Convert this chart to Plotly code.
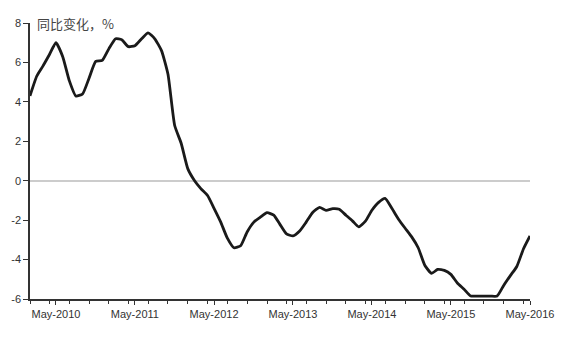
import pandas as pd
import plotly.graph_objects as go

# Monthly data Jan-2010 .. May-2016
start_month = "2010-01-01"
values = [
    4.3, 5.3, 5.8, 6.4, 7.0, 6.3, 5.1, 4.3, 4.4, 5.2, 6.05, 6.1,
    6.7, 7.2, 7.15, 6.8, 6.85, 7.2, 7.5, 7.2, 6.6, 5.4, 2.8, 1.9,
    0.6, 0.0, -0.4, -0.75, -1.4, -2.1, -2.9, -3.4, -3.3, -2.6, -2.1, -1.85,
    -1.62, -1.75, -2.2, -2.7, -2.8, -2.55, -2.1, -1.6, -1.35, -1.5, -1.42, -1.45,
    -1.75, -2.05, -2.34, -2.05, -1.5, -1.1, -0.9, -1.4, -1.95, -2.4, -2.85, -3.4,
    -4.3, -4.7, -4.5, -4.55, -4.75, -5.2, -5.5, -5.85, -5.85, -5.85, -5.85, -5.85,
    -5.3, -4.8, -4.35, -3.45, -2.8,
]
dates = pd.date_range(start_month, periods=len(values), freq="MS")

y_ticks = [8, 6, 4, 2, 0, -2, -4, -6]
title_text = "同比变化，%"

fig = go.Figure()
fig.add_trace(go.Scatter(
    x=dates, y=values, mode="lines",
    line=dict(color="#1a1a1a", width=2.8, shape="spline", smoothing=0.5),
    hoverinfo="skip",
))

fig.update_layout(
    width=566, height=339,
    margin=dict(l=30, r=36, t=23, b=40),
    paper_bgcolor="white", plot_bgcolor="white",
    showlegend=False,
    font=dict(family="Liberation Sans, Arial, sans-serif", size=11, color="#333333"),
)
fig.update_xaxes(
    type="date",
    range=["2010-01-01", "2016-05-01"],
    tick0="2010-05-01", dtick="M12", tickformat="%b-%Y",
    ticks="outside", ticklen=4, tickwidth=1, tickcolor="#333333",
    minor=dict(dtick="M3", ticks="outside", ticklen=3, tickcolor="#333333"),
    showline=True, linecolor="#333333", linewidth=1.5,
    showgrid=False, zeroline=False,
    tickfont=dict(size=11, color="#333333"),
)
fig.update_yaxes(
    range=[-6, 8],
    tickvals=y_ticks, ticktext=[str(v) for v in y_ticks],
    ticks="outside", ticklen=5, tickwidth=1, tickcolor="#333333",
    showline=True, linecolor="#333333", linewidth=1.5,
    showgrid=False, zeroline=True, zerolinecolor="#cccccc", zerolinewidth=1.5,
    tickfont=dict(size=11, color="#333333"),
)
fig.add_annotation(
    text=title_text, xref="paper", yref="paper", x=0, y=1,
    xanchor="left", yanchor="middle", xshift=5, showarrow=False,
    font=dict(family="Noto Sans CJK SC", size=13, color="#444444"),
)

fig.write_html("out.html")
